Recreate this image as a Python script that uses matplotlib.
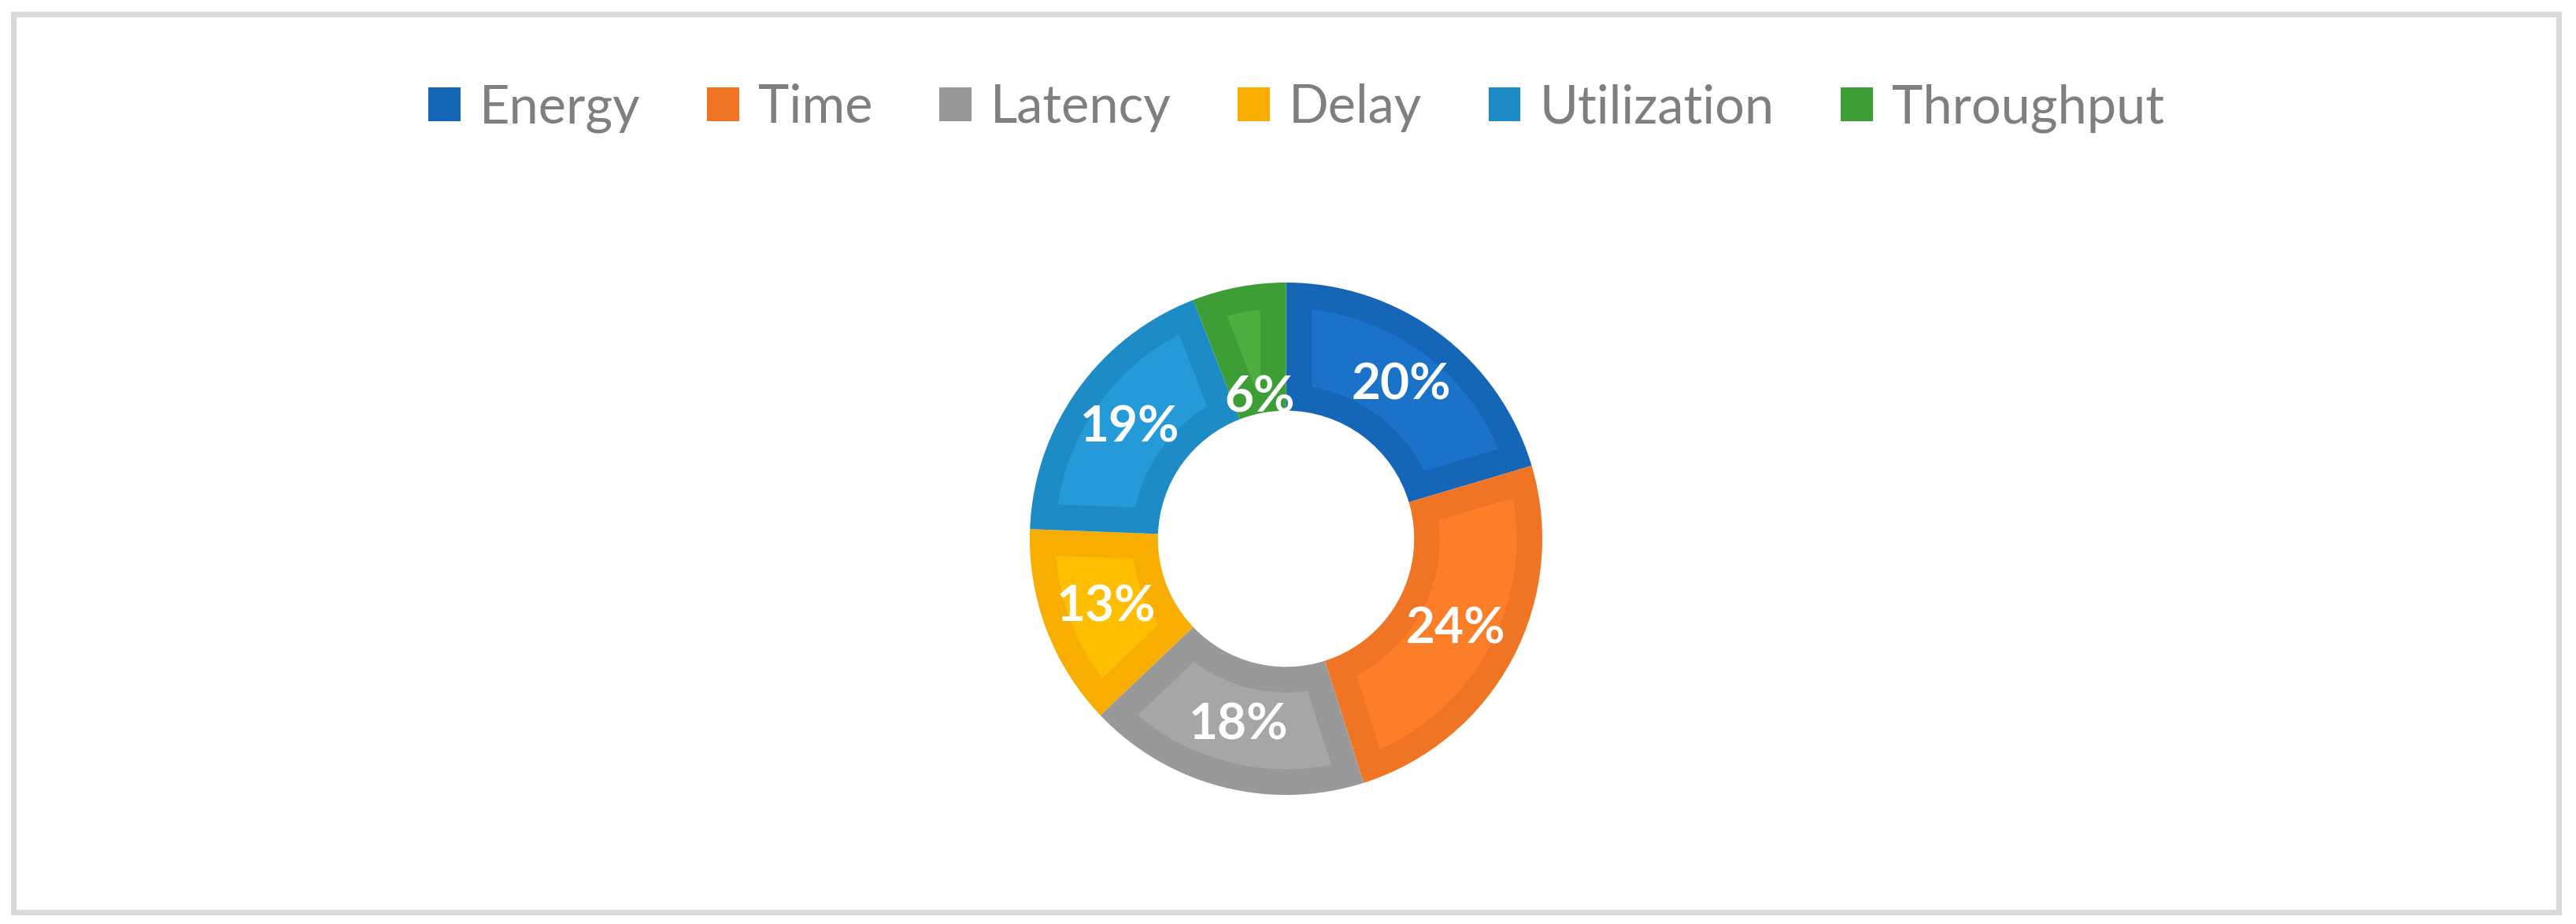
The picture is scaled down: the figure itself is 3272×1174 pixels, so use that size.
import numpy as np
import matplotlib.pyplot as plt
from matplotlib.patches import Patch, Polygon, Rectangle

labels = ['Energy', 'Time', 'Latency', 'Delay', 'Utilization', 'Throughput']
shares = [20.4, 24.7, 17.8, 12.7, 18.5, 5.9]
pct_labels = ['20%', '24%', '18%', '13%', '19%', '6%']

dark = ['#1566b7', '#ef7424', '#999999', '#f7ae00', '#1d8cc6', '#3c9e35']
light = ['#1a73c9', '#fd7e28', '#a6a6a6', '#ffbf00', '#249ad8', '#4cae3e']

W, H = 3272, 1174


def inset_sector(t1, t2, r_in, r_out, d, n=60):
    # annular sector shrunk by a constant margin d on every side
    a1 = np.radians(t1)
    a2 = np.radians(t2)
    ro = r_out - d
    ri = r_in + d
    o1 = a1 + np.arcsin(d / ro)
    o2 = a2 - np.arcsin(d / ro)
    i1 = a1 + np.arcsin(d / ri)
    i2 = a2 - np.arcsin(d / ri)
    if i2 < i1:
        i1 = i2 = (a1 + a2) / 2
    outer = np.linspace(o1, o2, n)
    inner = np.linspace(i2, i1, n)
    pts = np.concatenate([
        np.column_stack([ro * np.cos(outer), ro * np.sin(outer)]),
        np.column_stack([ri * np.cos(inner), ri * np.sin(inner)]),
    ])
    return pts


fig = plt.figure(figsize=(W / 100, H / 100), dpi=100)
fig.patch.set_facecolor('white')

# donut centre and outer radius in pixels
cx, cy, R = 1633.5, 684.5, 325.5
ax = fig.add_axes([(cx - R) / W, (H - cy - R) / H, 2 * R / W, 2 * R / H])

wedges, texts = ax.pie(
    shares, colors=dark, startangle=90, counterclock=False, radius=1,
    labels=pct_labels, labeldistance=0.75,
    wedgeprops=dict(width=0.5, linewidth=0),
    textprops=dict(color='white', family='Lato', weight='bold', fontsize=46))

for w, c in zip(wedges, light):
    pts = inset_sector(w.theta1, w.theta2, 0.5, 1.0, 0.1)
    ax.add_patch(Polygon(pts, closed=True, facecolor=c, edgecolor='none', zorder=2))

for t in texts:
    t.set_ha('center')
    t.set_va('center')
    t.set_zorder(5)

# small slice label sits nearer the hole
w = wedges[5]
mid = np.radians((w.theta1 + w.theta2) / 2)
texts[5].set_position((0.56 * np.cos(mid), 0.56 * np.sin(mid)))

ax.set_xlim(-1, 1)
ax.set_ylim(-1, 1)
ax.set_aspect('equal')
ax.axis('off')

handles = [Patch(facecolor=c, edgecolor='none') for c in dark]
fig.legend(handles, labels, loc='center', bbox_to_anchor=(1646.5 / W, 1 - 137.5 / H),
           ncol=6, frameon=False, prop=dict(family='Lato', size=48),
           labelcolor='#7f7f7f', handlelength=0.61, handleheight=0.61,
           handletextpad=0.36, columnspacing=1.27, borderpad=0)

# outer frame
fig.patches.append(Rectangle((16.5 / W, 1 - 1158.5 / H), (3249.5 - 16.5) / W,
                             (1158.5 - 18) / H, transform=fig.transFigure,
                             fill=False, edgecolor='#d9d9d9', linewidth=5))

fig.savefig('out.png', dpi=100, facecolor='white')
